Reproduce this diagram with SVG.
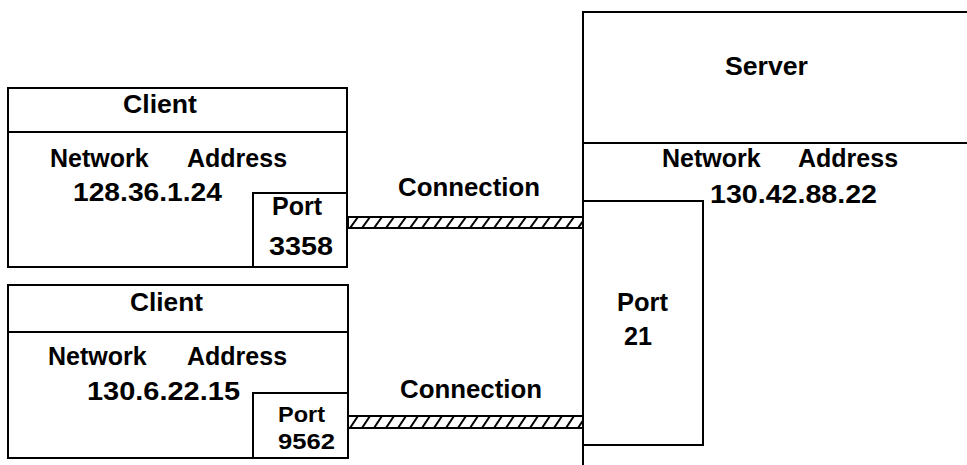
<svg xmlns="http://www.w3.org/2000/svg" width="967" height="465" viewBox="0 0 967 465">
<style>
.b{fill:#fff;stroke:#000;stroke-width:2}
.l{fill:none;stroke:#000;stroke-width:2}
text{font-family:"Liberation Sans",Arial,sans-serif;font-weight:bold;font-size:25px;fill:#000}
.sm{font-size:22px}
.band{stroke:#000;stroke-width:2}
</style>
<defs>
<pattern id="h1" patternUnits="userSpaceOnUse" x="348" y="217" width="12" height="11">
<path d="M2,11 L10,0" stroke="#000" stroke-width="2"/>
</pattern>
<pattern id="h2" patternUnits="userSpaceOnUse" x="348" y="416" width="12" height="12">
<path d="M2,12 L10,0" stroke="#000" stroke-width="2"/>
</pattern>
</defs>
<rect width="967" height="465" fill="#fff"/>
<g id="server">
<path class="l" d="M583,465 V12 H967 M583,143 H967"/>
<text x="725" y="75" textLength="83" lengthAdjust="spacingAndGlyphs">Server</text>
<text y="167"><tspan x="662">Network</tspan><tspan x="798">Address</tspan></text>
<text x="710" y="203" textLength="167" lengthAdjust="spacingAndGlyphs">130.42.88.22</text>
</g>
<g id="server-port">
<rect class="b" x="583" y="201" width="120" height="244"/>
<text x="617" y="311" textLength="51" lengthAdjust="spacingAndGlyphs">Port</text>
<text x="624" y="345" textLength="28" lengthAdjust="spacingAndGlyphs">21</text>
</g>
<g id="client1">
<rect class="b" x="8" y="88" width="339" height="179"/>
<path class="l" d="M8,132 H347"/>
<text x="123" y="113" textLength="74" lengthAdjust="spacingAndGlyphs">Client</text>
<text y="167"><tspan x="50">Network</tspan><tspan x="187">Address</tspan></text>
<text x="73" y="201" textLength="149" lengthAdjust="spacingAndGlyphs">128.36.1.24</text>
</g>
<g id="client1-port">
<rect class="b" x="253" y="193" width="94" height="74"/>
<text x="272" y="215" textLength="50" lengthAdjust="spacingAndGlyphs">Port</text>
<text x="269" y="255" textLength="64" lengthAdjust="spacingAndGlyphs">3358</text>
</g>
<g id="client2">
<rect class="b" x="8" y="285" width="340" height="173"/>
<path class="l" d="M8,332 H348"/>
<text x="130" y="311" textLength="73" lengthAdjust="spacingAndGlyphs">Client</text>
<text y="365"><tspan x="48">Network</tspan><tspan x="187">Address</tspan></text>
<text x="87" y="400" textLength="153" lengthAdjust="spacingAndGlyphs">130.6.22.15</text>
</g>
<g id="client2-port">
<rect class="b" x="253" y="393" width="95" height="65"/>
<text class="sm" x="278" y="422" textLength="47" lengthAdjust="spacingAndGlyphs">Port</text>
<text class="sm" x="278" y="449" textLength="57" lengthAdjust="spacingAndGlyphs">9562</text>
</g>
<g id="connectors">
<rect class="band" x="348" y="217" width="235" height="11" fill="url(#h1)"/>
<text x="398" y="196" textLength="142" lengthAdjust="spacingAndGlyphs">Connection</text>
<rect class="band" x="348" y="416" width="235" height="12" fill="url(#h2)"/>
<text x="400" y="398" textLength="142" lengthAdjust="spacingAndGlyphs">Connection</text>
</g>
</svg>
